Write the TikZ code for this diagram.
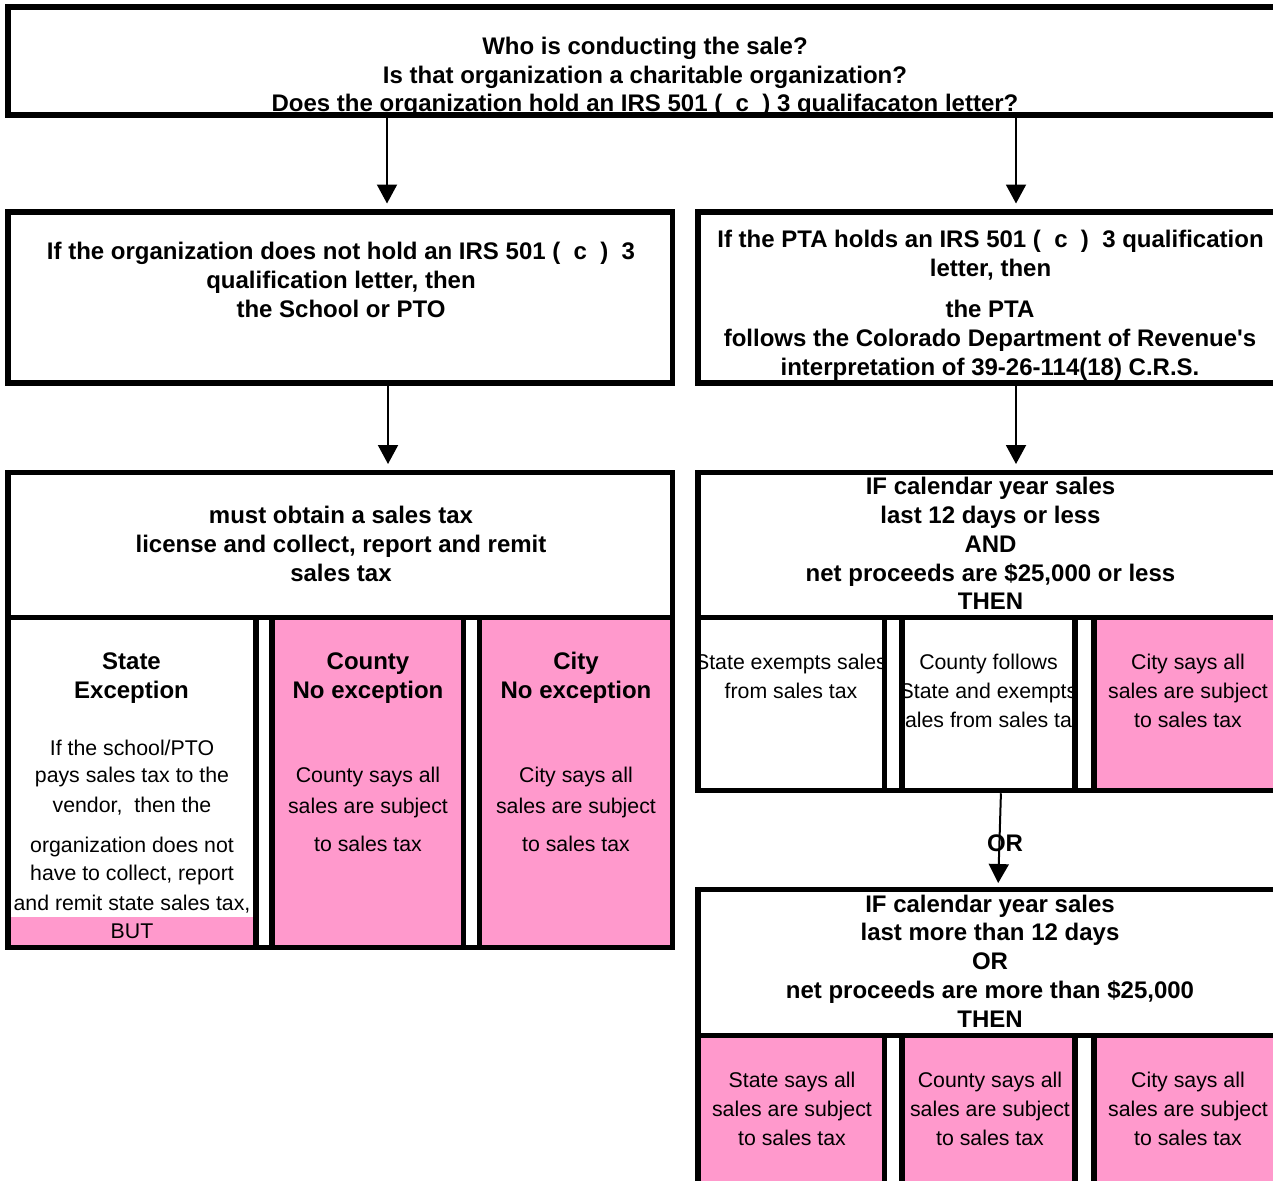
\documentclass[tikz,border=0pt]{standalone}
\usepackage{fontspec}
\setmainfont{Liberation Sans}[Ligatures=TeXOff]
\usetikzlibrary{arrows.meta}
\definecolor{pinkc}{RGB}{255,153,204}
\begin{document}
\begin{tikzpicture}[x=1pt,y=-1pt,
  frame/.style={draw, line width=5.5pt, inner sep=0pt, outer sep=0pt, anchor=north west},
  rule/.style={line width=5.5pt},
  arr/.style={line width=2pt, -{Triangle[width=20pt,length=19pt]}},
  bt/.style={font=\fontsize{24}{28.8}\selectfont\bfseries, align=center, inner sep=0pt},
  rt/.style={font=\fontsize{21.3}{29}\selectfont, align=center, inner sep=0pt},
  rl/.style={font=\fontsize{21.3}{29}\selectfont, inner sep=0pt, anchor=base},
]
\useasboundingbox (0,0) rectangle (1273,1180);

% pink fills
\fill[pinkc] (272,617.5) rectangle (463.5,947.5);
\fill[pinkc] (479.5,617.5) rectangle (672.5,947.5);
\fill[pinkc] (8,917) rectangle (256,947.5);
\fill[pinkc] (1094,617.5) rectangle (1295,790.5);
\fill[pinkc] (698,1035.5) rectangle (884.5,1210);
\fill[pinkc] (902,1035.5) rectangle (1075,1210);
\fill[pinkc] (1094,1035.5) rectangle (1295,1210);

% texts
\node[bt] (t0) at (645,77) {Who is conducting the sale?\\Is that organization a charitable organization?\\Does the organization hold an IRS 501 (\ \ c\ \ )\ 3 qualifacaton letter?};
\node[bt] (tL2) at (341,280) {If the organization does not hold an IRS 501 (\ \ c\ \ )\ \ 3\\qualification letter, then\\the School or PTO};
\node[bt] (tR2a) at (990.5,255) {If the PTA holds an IRS 501 (\ \ c\ \ )\ \ 3 qualification\\letter, then};
\node[bt] (tR2b) at (990,340) {the PTA\\follows the Colorado Department of Revenue's\\interpretation of 39-26-114(18) C.R.S.};
\node[bt] (tL3) at (341,544) {must obtain a sales tax\\license and collect, report and remit\\sales tax};
\node[bt] (tR3) at (990.5,543.5) {IF calendar year sales\\last 12 days or less\\AND\\net proceeds are \$25,000 or less\\THEN};
\node[bt] (tR4) at (990,961) {IF calendar year sales\\last more than 12 days\\OR\\net proceeds are more than \$25,000\\THEN};

% left cells
\node[bt] (h1) at (131.5,678) {State\\Exception};
\node[bt] (h2) at (368,678) {County\\No exception};
\node[bt] (h3) at (576,678) {City\\No exception};
\node[rl] (s1) at (132,755) {If the school/PTO};
\node[rl] (s2) at (132,782) {pays sales tax to the};
\node[rl] (s3) at (132,812) {vendor,\ \ then the};
\node[rl] (s4) at (132,852) {organization does not};
\node[rl] (s5) at (132,880) {have to collect, report};
\node[rl] (s6) at (132,910) {and remit state sales tax,};
\node[rl] (s7) at (132,938) {BUT};
\foreach \cx/\nm/\w in {368/cA/County, 576/cB/City} {
  \node[rl] (\nm1) at (\cx,782) {\w{} says all};
  \node[rl] (\nm2) at (\cx,813) {sales are subject};
  \node[rl] (\nm3) at (\cx,851) {to sales tax};
}

% right cells (upper)
\begin{scope}
  \clip (887.25,620) rectangle (699.25,788);
  \node[rt] (r1) at (791,676.5) {State exempts sales\\from sales tax};
\end{scope}
\begin{scope}
  \clip (904.75,620) rectangle (1072.25,788);
  \node[rt] (r2) at (988.5,691) {County follows\\State and exempts\\sales from sales tax};
\end{scope}
\node[rt] (r3) at (1188,691) {City says all\\sales are subject\\to sales tax};

% right cells (lower)
\node[rt] (b1) at (792,1108.5) {State says all\\sales are subject\\to sales tax};
\node[rt] (b2) at (990,1108.5) {County says all\\sales are subject\\to sales tax};
\node[rt] (b3) at (1188,1108.5) {City says all\\sales are subject\\to sales tax};

% boxes
\node[frame, minimum width=1287pt, minimum height=108pt] (top) at (8,7) {};
\node[frame, minimum width=664.5pt, minimum height=171pt] (L2) at (8,212) {};
\node[frame, minimum width=597pt, minimum height=171pt] (R2) at (698,212) {};
\node[frame, minimum width=664.5pt, minimum height=475pt] (L3) at (8,472.5) {};
\node[frame, minimum width=597pt, minimum height=318pt] (R3) at (698,472.5) {};
\node[frame, minimum width=597pt, minimum height=320.5pt] (R4) at (698,889.5) {};

% separators and cell dividers
\draw[rule] (8,617.5) -- (672.5,617.5);
\draw[rule] (698,617.5) -- (1295,617.5);
\draw[rule] (698,1035.5) -- (1295,1035.5);
\foreach \xx in {256,272,463.5,479.5} \draw[rule] (\xx,617.5) -- (\xx,947.5);
\foreach \xx in {884.5,902,1075,1094} \draw[rule] (\xx,617.5) -- (\xx,790.5);
\foreach \xx in {884.5,902,1075,1094} \draw[rule] (\xx,1035.5) -- (\xx,1210);

% arrows
\coordinate (c1) at (387,0);
\coordinate (c2) at (1016,0);
\coordinate (c3) at (388,0);
\coordinate (c5a) at (1001,0);
\coordinate (c5b) at (998,0);
\draw[arr, shorten <=2.75pt, shorten >=8.5pt] (top.south -| c1) -- (L2.north -| c1);
\draw[arr, shorten <=2.75pt, shorten >=8.5pt] (top.south -| c2) -- (R2.north -| c2);
\draw[arr, shorten <=2.75pt, shorten >=8.5pt] (L2.south -| c3) -- (L3.north -| c3);
\draw[arr, shorten <=2.75pt, shorten >=8.5pt] (R2.south -| c2) -- (R3.north -| c2);
\draw[arr, shorten <=2.75pt, shorten >=6.5pt] (R3.south -| c5a) -- (R4.north -| c5b);
\node[bt] (orl) at (1005,843) {OR};
\end{tikzpicture}
\end{document}
